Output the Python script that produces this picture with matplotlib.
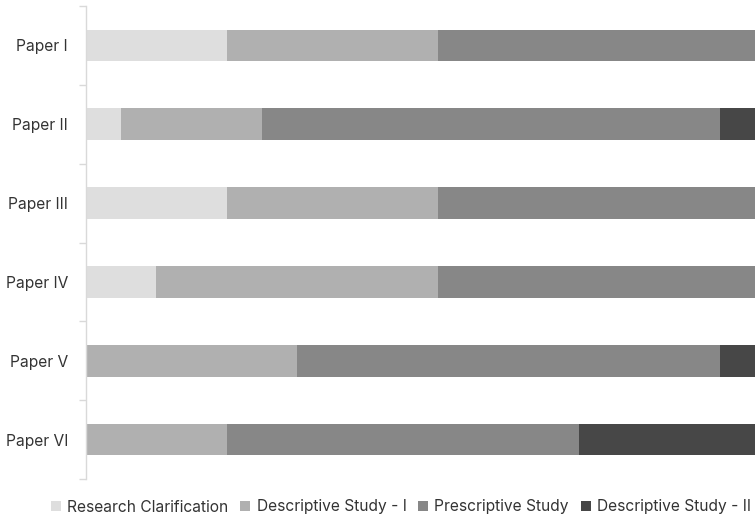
import matplotlib
matplotlib.use("Agg")
import matplotlib.pyplot as plt
import numpy as np

papers = ["Paper I", "Paper II", "Paper III", "Paper IV", "Paper V", "Paper VI"]
series_names = ["Research Clarification", "Descriptive Study - I", "Prescriptive Study", "Descriptive Study - II"]
research_clarification = [2.0, 0.5, 2.0, 1.0, 0.0, 0.0]
descriptive_1 = [3.0, 2.0, 3.0, 4.0, 3.0, 2.0]
prescriptive = [4.5, 6.5, 4.5, 4.5, 6.0, 5.0]
descriptive_2 = [0.0, 0.5, 0.0, 0.0, 0.5, 2.5]
colors = ["#dedede", "#b0b0b0", "#878787", "#474747"]

plt.rcParams['font.family'] = ['Inter', 'DejaVu Sans']

fig = plt.figure(figsize=(7.55, 5.17), dpi=100)
ax = fig.add_axes([86/755, 1-479/517, 1-86/755, (479-6)/517])

y = np.arange(len(papers))
left = np.zeros(len(papers))
all_series = [research_clarification, descriptive_1, prescriptive, descriptive_2]
for name, vals, c in zip(series_names, all_series, colors):
    vals = np.array(vals)
    ax.barh(y, vals, left=left, height=0.4, color=c, label=name, linewidth=0)
    left += vals

ax.set_xlim(0, 9.5)
ax.set_ylim(len(papers)-0.5, -0.5)
ax.set_yticks(y)
ax.set_yticklabels(papers, fontsize=11.2, color="#333333")
ax.set_yticks(np.arange(-0.5, len(papers), 1.0), minor=True)
ax.tick_params(axis='y', which='major', length=0, pad=13)
ax.tick_params(axis='y', which='minor', length=5, color="#d9d9d9", width=1)
ax.set_xticks([])
for s in ["top", "right", "bottom"]:
    ax.spines[s].set_visible(False)
ax.spines["left"].set_color("#d9d9d9")
ax.spines["left"].set_linewidth(1)

leg = fig.legend(loc="center", bbox_to_anchor=(401/755, 1-507/517), ncol=4, frameon=False,
                 fontsize=11.2, handlelength=0.65, handleheight=0.65, handletextpad=0.4,
                 columnspacing=0.75, labelcolor="#333333")

fig.savefig("out.png", dpi=100)
